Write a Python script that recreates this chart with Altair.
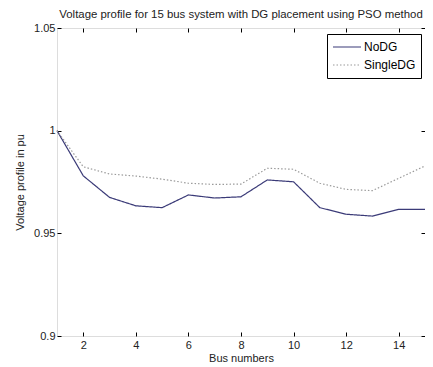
import altair as alt
import pandas as pd

buses = list(range(1, 16))
nodg = [1.0, 0.978, 0.9675, 0.9634, 0.9625, 0.9687, 0.9672, 0.9678, 0.976, 0.9751,
        0.9625, 0.9593, 0.9584, 0.9617, 0.9617]
singledg = [1.0, 0.9824, 0.9789, 0.9779, 0.9764, 0.9744, 0.9738, 0.974, 0.9817, 0.9812,
            0.9744, 0.9714, 0.9708, 0.9768, 0.9828]
series = ["NoDG", "SingleDG"]
colors = ["#3b3b78", "#9a9a9a"]
dashes = [[1, 0], [1.5, 2]]
x_ticks = [2, 4, 6, 8, 10, 12, 14]
y_ticks = [0.9, 0.95, 1.0, 1.05]

rows = []
for b, v in zip(buses, nodg):
    rows.append({"bus": b, "v": v, "series": series[0]})
for b, v in zip(buses, singledg):
    rows.append({"bus": b, "v": v, "series": series[1]})
df = pd.DataFrame(rows)

font = "Liberation Sans"
xscale = alt.Scale(domain=[1, 15], nice=False, zero=False)
yscale = alt.Scale(domain=[0.9, 1.05], nice=False, zero=False)

legend = alt.Legend(
    title=None, orient="none", legendX=270, legendY=6,
    symbolType="stroke", symbolSize=784, symbolStrokeWidth=1.2,
    labelFont=font, labelFontSize=12, labelColor="#000",
    strokeColor="#000", fillColor="#fff", padding=5, rowPadding=2,
    clipHeight=16, cornerRadius=0, labelOffset=2,
)

base_axis = dict(domain=False, offset=-4, tickSize=4, tickColor="#000", grid=False,
                 labelFont=font, labelFontSize=11, labelColor="#222",
                 titleFont=font, titleFontSize=11, titleFontWeight="normal", titleColor="#222")

lines = alt.Chart(df).mark_line(strokeWidth=1.2).encode(
    x=alt.X("bus:Q", scale=xscale,
            axis=alt.Axis(values=x_ticks, title="Bus numbers", labelPadding=3, titlePadding=2, **base_axis)),
    y=alt.Y("v:Q", scale=yscale,
            axis=alt.Axis(values=y_ticks, format="~g", title="Voltage profile in pu",
                          labelPadding=2, titlePadding=8, **base_axis)),
    color=alt.Color("series:N", scale=alt.Scale(domain=series, range=colors), legend=legend),
    strokeDash=alt.StrokeDash("series:N", scale=alt.Scale(domain=series, range=dashes), legend=legend),
)

box_axis = dict(domain=False, offset=-4, tickSize=4, tickColor="#000", grid=False, labels=False, title=None)
frame = alt.Chart(df).mark_line(opacity=0).encode(
    x=alt.X("bus:Q", scale=xscale, axis=alt.Axis(orient="top", values=x_ticks, **box_axis)),
    y=alt.Y("v:Q", scale=yscale, axis=alt.Axis(orient="right", values=y_ticks, **box_axis)),
    detail="series:N",
)

chart = alt.layer(lines, frame).resolve_axis(x="independent", y="independent").properties(
    width=368, height=308,
    autosize=alt.AutoSizeParams(type="none"),
    padding={"left": 49, "top": 20, "right": 0, "bottom": 31},
    title=alt.Title("Voltage profile for 15 bus system with DG placement using PSO method",
                    font=font, fontSize=11.4, fontWeight="normal", color="#222", offset=2),
).configure_view(stroke="#000", strokeWidth=1.2).configure(background="#fff")

chart.save("out.html", embed_options={"renderer": "svg", "actions": False})
